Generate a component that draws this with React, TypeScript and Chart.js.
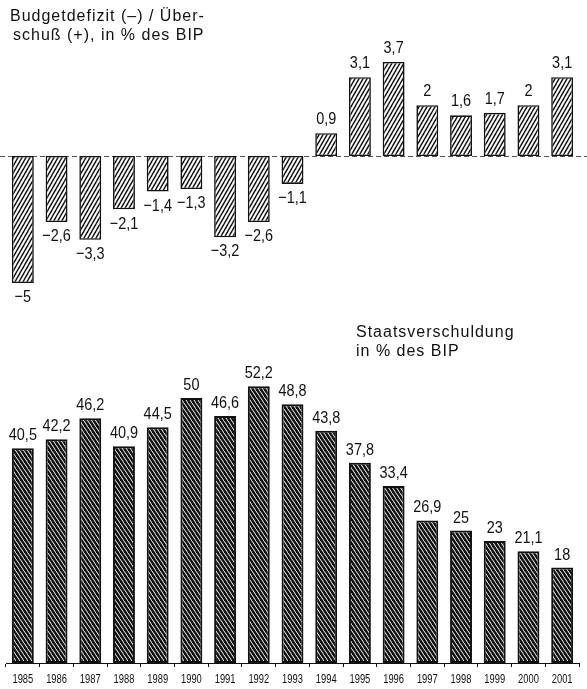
import React, { useEffect, useRef } from "react";
import { Chart, registerables } from "chart.js";

Chart.register(...registerables);

const years = ["1985", "1986", "1987", "1988", "1989", "1990", "1991", "1992", "1993", "1994", "1995", "1996", "1997", "1998", "1999", "2000", "2001"];
const budgetBalance = [-5, -2.6, -3.3, -2.1, -1.4, -1.3, -3.2, -2.6, -1.1, 0.9, 3.1, 3.7, 2, 1.6, 1.7, 2, 3.1];
const publicDebt = [40.5, 42.2, 46.2, 40.9, 44.5, 50, 46.6, 52.2, 48.8, 43.8, 37.8, 33.4, 26.9, 25, 23, 21.1, 18];
const budgetTitle = ["Budgetdefizit (–) / Über-", "schuß (+), in % des BIP"];
const debtTitle = ["Staatsverschuldung", "in % des BIP"];

const FONT = '"Liberation Sans", Arial, Helvetica, sans-serif';

function makePattern(forward: boolean, lw: number, w: number, h: number, color: string): CanvasPattern | string {
  const c = document.createElement("canvas");
  c.width = w;
  c.height = h;
  const g = c.getContext("2d");
  if (!g) return "#888";
  g.fillStyle = "#fff";
  g.fillRect(0, 0, w, h);
  g.strokeStyle = color;
  g.lineWidth = lw;
  g.lineCap = "square";
  for (let k = -1; k <= 1; k++) {
    g.beginPath();
    if (forward) {
      g.moveTo(k * w, h);
      g.lineTo(k * w + w, 0);
    } else {
      g.moveTo(k * w, 0);
      g.lineTo(k * w + w, h);
    }
    g.stroke();
  }
  const p = g.createPattern(c, "repeat");
  return p || "#888";
}

const fmt = (v: number) => (v < 0 ? "\u2212" : "") + Math.abs(v).toString().replace(".", ",");

function drawCondensed(ctx: CanvasRenderingContext2D, text: string, x: number, y: number, sx: number) {
  ctx.save();
  ctx.translate(x, y);
  ctx.scale(sx, 1);
  ctx.fillText(text, 0, 0);
  ctx.restore();
}

const zeroLinePlugin = {
  id: "zeroLine",
  beforeDatasetsDraw(chart: any) {
    const ctx = chart.ctx as CanvasRenderingContext2D;
    const y = Math.round(chart.scales.y.getPixelForValue(0)) + 0.5;
    ctx.save();
    ctx.strokeStyle = "#555";
    ctx.lineWidth = 1;
    ctx.setLineDash([5, 3]);
    ctx.beginPath();
    ctx.moveTo(0, y);
    ctx.lineTo(chart.width, y);
    ctx.stroke();
    ctx.restore();
  },
};

const budgetLabelsPlugin = {
  id: "budgetLabels",
  afterDatasetsDraw(chart: any) {
    const ctx = chart.ctx as CanvasRenderingContext2D;
    const meta = chart.getDatasetMeta(0);
    ctx.save();
    ctx.fillStyle = "#111";
    ctx.font = `17px ${FONT}`;
    ctx.textAlign = "center";
    meta.data.forEach((el: any, i: number) => {
      const v = budgetBalance[i];
      if (v >= 0) {
        ctx.textBaseline = "alphabetic";
        drawCondensed(ctx, fmt(v), el.x, el.y - 9, 0.85);
      } else {
        ctx.textBaseline = "top";
        drawCondensed(ctx, fmt(v), el.x, el.y + 6, 0.85);
      }
    });
    ctx.restore();
  },
};

const debtLabelsPlugin = {
  id: "debtLabels",
  afterDatasetsDraw(chart: any) {
    const ctx = chart.ctx as CanvasRenderingContext2D;
    const meta = chart.getDatasetMeta(0);
    const xs = chart.scales.x;
    ctx.save();
    ctx.fillStyle = "#111";
    ctx.font = `17px ${FONT}`;
    ctx.textAlign = "center";
    ctx.textBaseline = "alphabetic";
    meta.data.forEach((el: any, i: number) => {
      drawCondensed(ctx, fmt(publicDebt[i]), el.x, el.y - 8, 0.85);
    });
    ctx.font = `12px ${FONT}`;
    ctx.textBaseline = "middle";
    years.forEach((yr, i) => {
      drawCondensed(ctx, yr, xs.getPixelForValue(i), xs.bottom - 9, 0.78);
    });
    ctx.restore();
  },
};

export default function App() {
  const topRef = useRef<HTMLCanvasElement>(null);
  const botRef = useRef<HTMLCanvasElement>(null);

  useEffect(() => {
    if (!topRef.current || !botRef.current) return;
    const topPattern = makePattern(true, 1.4, 4, 7, "#111");
    const botPattern = makePattern(false, 2.5, 4, 6, "#111");

    const top = new Chart(topRef.current, {
      type: "bar",
      data: {
        labels: years,
        datasets: [
          {
            data: budgetBalance,
            backgroundColor: topPattern as any,
            borderColor: "#111",
            borderWidth: 1.6,
            borderSkipped: false,
            barPercentage: 0.65,
            categoryPercentage: 1,
          },
        ],
      },
      options: {
        animation: false,
        responsive: false,
        maintainAspectRatio: false,
        layout: { padding: { left: 6, right: 8, top: 3.6, bottom: 11.6 } },
        plugins: { legend: { display: false }, tooltip: { enabled: false } },
        scales: {
          x: { display: false },
          y: { display: false, min: -6, max: 6 },
        },
      },
      plugins: [zeroLinePlugin, budgetLabelsPlugin],
    });

    const bot = new Chart(botRef.current, {
      type: "bar",
      data: {
        labels: years,
        datasets: [
          {
            data: publicDebt,
            backgroundColor: botPattern as any,
            borderColor: "#111",
            borderWidth: 2,
            borderSkipped: false,
            barPercentage: 0.65,
            categoryPercentage: 1,
          },
        ],
      },
      options: {
        animation: false,
        responsive: false,
        maintainAspectRatio: false,
        layout: { padding: { left: 6, right: 8, top: 35, bottom: 0 } },
        plugins: { legend: { display: false }, tooltip: { enabled: false } },
        scales: {
          x: {
            display: true,
            grid: { display: true, drawOnChartArea: false, drawTicks: true, tickLength: 4, color: "#111", offset: true },
            border: { display: true, color: "#111", width: 1 },
            ticks: { display: false },
            afterFit: (s: any) => {
              s.height = 26;
            },
          },
          y: { display: false, min: 0, max: 60 },
        },
      },
      plugins: [debtLabelsPlugin],
    });

    return () => {
      top.destroy();
      bot.destroy();
    };
  }, []);

  const titleStyle: React.CSSProperties = {
    position: "absolute",
    fontFamily: FONT,
    fontSize: 16,
    letterSpacing: "1px",
    lineHeight: "19px",
    color: "#111",
    whiteSpace: "nowrap",
  };

  return (
    <div style={{ position: "absolute", left: 0, top: 0, width: 587, height: 689, background: "#fff", overflow: "hidden" }}>
      <canvas ref={topRef} width={587} height={320} style={{ position: "absolute", left: 0, top: 0 }} />
      <canvas ref={botRef} width={587} height={379} style={{ position: "absolute", left: 0, top: 310 }} />
      <div style={{ ...titleStyle, left: 10, top: 6 }}>
        {budgetTitle.map((t, i) => (
          <div key={i} style={{ marginLeft: i === 1 ? 3 : 0 }}>{t}</div>
        ))}
      </div>
      <div style={{ ...titleStyle, left: 356, top: 322 }}>
        {debtTitle.map((t, i) => (
          <div key={i}>{t}</div>
        ))}
      </div>
    </div>
  );
}
